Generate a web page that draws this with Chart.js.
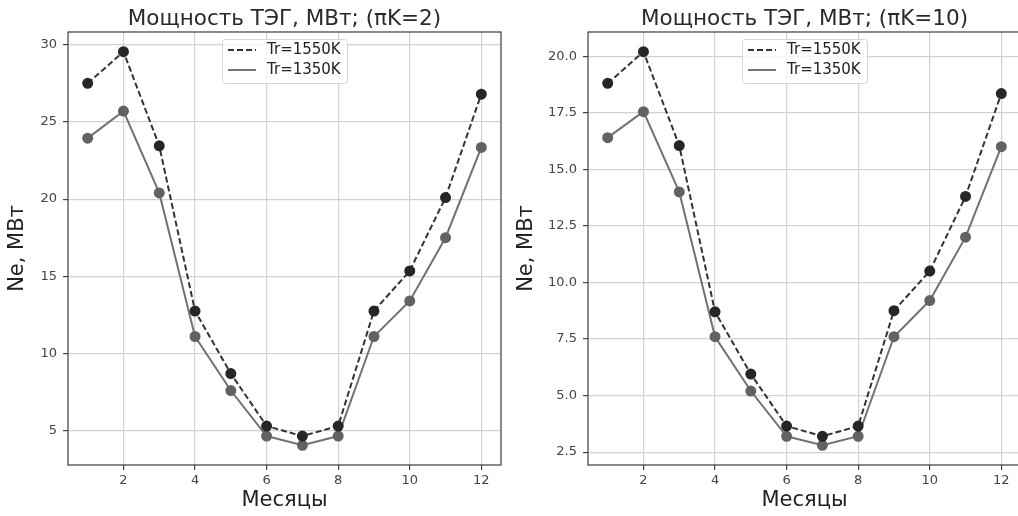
<!DOCTYPE html>
<html>
<head>
<meta charset="utf-8">
<script src="https://cdn.jsdelivr.net/npm/chart.js@4.4.1/dist/chart.umd.min.js"></script>
<style>
  html, body { margin: 0; padding: 0; background: #fff; overflow: hidden; width: 1018px; height: 516px; }
  .panel { position: absolute; top: 0; height: 516px; }
  #left { left: 0; width: 509px; }
  #right { left: 509px; width: 540px; }
</style>
</head>
<body>
<div class="panel" id="left"><canvas id="pk2"></canvas></div>
<div class="panel" id="right"><canvas id="pk10"></canvas></div>
<script>
const months = [1, 2, 3, 4, 5, 6, 7, 8, 9, 10, 11, 12];

// πK = 2
const pk2Tr1550 = [27.5, 29.55, 23.45, 12.75, 8.7, 5.3, 4.65, 5.3, 12.75, 15.35, 20.1, 26.8];
const pk2Tr1350 = [23.95, 25.7, 20.4, 11.1, 7.6, 4.65, 4.05, 4.65, 11.1, 13.4, 17.5, 23.35];

// πK = 10
const pk10Tr1550 = [18.8, 20.2, 16.05, 8.7, 5.95, 3.65, 3.2, 3.65, 8.75, 10.5, 13.8, 18.35];
const pk10Tr1350 = [16.4, 17.55, 14.0, 7.6, 5.2, 3.2, 2.8, 3.2, 7.6, 9.2, 12.0, 16.0];

const seriesLabels = ['Tr=1550K', 'Tr=1350K'];
const xLabel = 'Месяцы';
const yLabel = 'Ne, МВт';

const font = 'DejaVu Sans';

// рамка вокруг области графика (как spines в matplotlib)
const framePlugin = {
  id: 'frame',
  beforeDatasetsDraw(chart) {
    const { ctx, chartArea: a } = chart;
    ctx.save();
    ctx.strokeStyle = '#3c3c3c';
    ctx.lineWidth = 1.2;
    ctx.strokeRect(a.left, a.top, a.right - a.left, a.bottom - a.top);
    ctx.restore();
  }
};

// легенда внутри графика, сверху по центру
const insideLegend = {
  id: 'insideLegend',
  afterDatasetsDraw(chart) {
    const { ctx, chartArea: a } = chart;
    const w = 125, h = 44;
    const x = (a.left + a.right) / 2 - w / 2;
    const y = a.top + 7;
    ctx.save();
    ctx.fillStyle = 'rgba(255,255,255,0.8)';
    ctx.strokeStyle = '#d6d6d6';
    ctx.lineWidth = 1;
    ctx.beginPath();
    ctx.roundRect(x + 0.5, y + 0.5, w, h, 3);
    ctx.fill();
    ctx.stroke();
    ctx.font = '15px "' + font + '"';
    ctx.textBaseline = 'middle';
    chart.data.datasets.forEach((ds, i) => {
      const ly = y + 11 + i * 20;
      ctx.strokeStyle = ds.borderColor;
      ctx.lineWidth = ds.borderWidth;
      ctx.setLineDash(ds.borderDash || []);
      ctx.beginPath();
      ctx.moveTo(x + 6, ly);
      ctx.lineTo(x + 34, ly);
      ctx.stroke();
      ctx.setLineDash([]);
      ctx.fillStyle = '#222';
      ctx.fillText(ds.label, x + 45, ly);
    });
    ctx.restore();
  }
};

function paddedRange(a, b) {
  const all = a.concat(b);
  const lo = Math.min(...all), hi = Math.max(...all);
  const m = (hi - lo) * 0.05;
  return [lo - m, hi + m];
}

function makeChart(id, title, hot, cold, step, yWidth, decimals, padRight) {
  const [yMin, yMax] = paddedRange(hot, cold);
  new Chart(document.getElementById(id), {
    type: 'line',
    data: {
      datasets: [
        {
          label: seriesLabels[0],
          data: months.map((m, i) => ({ x: m, y: hot[i] })),
          borderColor: '#333333',
          borderWidth: 2,
          borderDash: [6, 3],
          pointBackgroundColor: '#262626',
          pointBorderColor: '#262626',
          pointRadius: 4.5,
          tension: 0
        },
        {
          label: seriesLabels[1],
          data: months.map((m, i) => ({ x: m, y: cold[i] })),
          borderColor: '#727272',
          borderWidth: 2,
          pointBackgroundColor: '#626262',
          pointBorderColor: '#626262',
          pointRadius: 4.5,
          tension: 0
        }
      ]
    },
    options: {
      responsive: true,
      maintainAspectRatio: false,
      animation: false,
      layout: { padding: { left: 0, right: padRight, top: 0, bottom: 0 } },
      plugins: {
        legend: { display: false },
        tooltip: { enabled: false },
        title: {
          display: true,
          fullSize: false,
          text: title,
          color: '#2a2a2a',
          font: { family: font, size: 21.5, weight: 'normal' },
          padding: { top: 6.2, bottom: 0 }
        }
      },
      scales: {
        x: {
          type: 'linear',
          min: 0.45,
          max: 12.55,
          ticks: {
            stepSize: 2,
            includeBounds: false,
            color: '#444',
            font: { family: font, size: 13 },
            padding: 3,
            maxRotation: 0
          },
          grid: { color: '#d2d2d2', lineWidth: 1.2, tickColor: '#444', tickLength: 5 },
          border: { display: false },
          title: {
            display: true,
            text: xLabel,
            color: '#222',
            font: { family: font, size: 21 },
            padding: { top: 0, bottom: 2.4 }
          },
          afterFit(scale) { scale.height = 51; }
        },
        y: {
          min: yMin,
          max: yMax,
          ticks: {
            stepSize: step,
            includeBounds: false,
            color: '#444',
            font: { family: font, size: 13 },
            padding: 6,
            callback: (v) => v.toFixed(decimals)
          },
          grid: { color: '#d2d2d2', lineWidth: 1.2, tickColor: '#444', tickLength: 5 },
          border: { display: false },
          title: {
            display: true,
            text: yLabel,
            color: '#222',
            font: { family: font, size: 21 },
            padding: { top: 5.4, bottom: 0 }
          },
          afterFit(scale) { scale.width = yWidth; }
        }
      }
    },
    plugins: [framePlugin, insideLegend]
  });
}

makeChart('pk2', 'Мощность ТЭГ, МВт; (πK=2)', pk2Tr1550, pk2Tr1350, 5, 68, 0, 8);
makeChart('pk10', 'Мощность ТЭГ, МВт; (πK=10)', pk10Tr1550, pk10Tr1350, 2.5, 79, 1, 28);
</script>
</body>
</html>
